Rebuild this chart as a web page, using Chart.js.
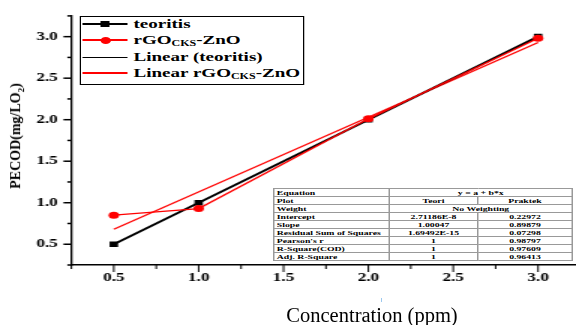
<!DOCTYPE html>
<html>
<head>
<meta charset="utf-8">
<script src="https://cdn.jsdelivr.net/npm/chart.js@4.4.1/dist/chart.umd.min.js"></script>
<style>
    body { margin: 0; width: 576px; height: 325px; overflow: hidden; background: #fff; position: relative; }
    /* the original figure was stretched sideways, so the whole plot lives in a scaled box */
    #wrap { position: absolute; left: 0; top: 0; width: 393px; height: 325px; transform: scaleX(1.5); transform-origin: 0 0; }
    #c { position: absolute; left: 0; top: 0; }
    #ytitle { position: absolute; left: 17px; top: 136px; transform: translate(-50%, -50%) rotate(-90deg);
        font: bold 14px "Liberation Serif"; white-space: nowrap; color: #000; }
    #ytitle sub { font-size: 9px; }
    #legend { position: absolute; left: 53px; top: 16px; width: 148px; height: 67px; border: 1px solid #000; background: #fff; }
    .row { position: absolute; left: 0; height: 16px; width: 148px; }
    .smp { position: absolute; left: 1px; width: 30px; top: 8px; }
    .mk { position: absolute; left: 13px; }
    .lbl { position: absolute; left: 35px; top: 0; font: bold 12.7px/16px "Liberation Serif"; white-space: nowrap; color: #000; }
    .lbl sub { font-size: 8px; vertical-align: -2px; }
    #fit { position: absolute; left: 182px; top: 188px; width: 199px; height: 71px; border-collapse: collapse;
        table-layout: fixed; border: 1px solid #000; background: #fff; font: bold 6.5px "Liberation Serif"; color: #000; }
    #fit td { border: 0.5px solid #999; padding: 0 1.5px; height: 7px; line-height: 6px; text-align: center; white-space: nowrap; overflow: hidden; }
    #fit td:first-child { text-align: left; }
    #xtitle { position: absolute; left: 272px; top: 305px; width: 200px; text-align: center;
        font: 20.5px/20px "Liberation Serif"; color: #000; white-space: nowrap; }
    #mark { position: absolute; left: 381px; top: 298px; width: 1px; height: 4px; background: #9cc8ee; }
</style>
</head>
<body>
<div id="wrap">
    <canvas id="c" width="393" height="325"></canvas>
    <div id="legend">
        <div class="row" style="top:-1px">
            <span class="smp" style="height:2px;margin-top:-1px;background:#000"></span>
            <span class="mk" style="top:5px;width:6px;height:6px;background:#000"></span>
            <span class="lbl">teoritis</span>
        </div>
        <div class="row" style="top:15px">
            <span class="smp" style="height:1.5px;margin-top:-1px;background:#f00"></span>
            <span class="mk" style="top:4.5px;width:7px;height:7px;border-radius:50%;background:#f00"></span>
            <span class="lbl">rGO<sub>CKS</sub>-ZnO</span>
        </div>
        <div class="row" style="top:32px">
            <span class="smp" style="height:1px;background:#000"></span>
            <span class="lbl">Linear (teoritis)</span>
        </div>
        <div class="row" style="top:48px">
            <span class="smp" style="height:1.5px;margin-top:-1px;background:#f00"></span>
            <span class="lbl">Linear rGO<sub>CKS</sub>-ZnO</span>
        </div>
    </div>
    <table id="fit">
        <colgroup><col style="width:77px"><col style="width:59px"><col style="width:63px"></colgroup>
        <tbody id="fitBody"></tbody>
    </table>
</div>
<div id="ytitle">PECOD(mg/LO<sub>2</sub>)</div>
<div id="xtitle">Concentration (ppm)</div>
<div id="mark"></div>

<script>
    // data
    const concentration = [0.5, 1.0, 2.0, 3.0];
    const teoritis = [0.5, 1.0, 2.0, 3.0];
    const rgoZnO = [0.85, 0.93, 2.01, 2.98];
    // linear fits, end points only
    const fitX = [0.5, 3.0];
    const fitTeoritis = [0.50, 3.00];
    const fitRgoZnO = [0.68, 2.93];
    const majorTicks = [0.5, 1.0, 1.5, 2.0, 2.5, 3.0];

    const fitRows = [
        ['Equation', 'y = a + b*x'],
        ['Plot', 'Teori', 'Praktek'],
        ['Weight', 'No Weighting'],
        ['Intercept', '2.71186E-8', '0.22972'],
        ['Slope', '1.00047', '0.89879'],
        ['Residual Sum of Squares', '1.69492E-15', '0.07298'],
        ["Pearson's r", '1', '0.98797'],
        ['R-Square(COD)', '1', '0.97609'],
        ['Adj. R-Square', '1', '0.96413']
    ];

    const body = document.getElementById('fitBody');
    fitRows.forEach(r => {
        const tr = document.createElement('tr');
        r.forEach((txt, i) => {
            const td = document.createElement('td');
            td.textContent = txt;
            if (r.length === 2 && i === 1) td.colSpan = 2;
            tr.appendChild(td);
        });
        body.appendChild(tr);
    });

    function isMajor(v) {
        return majorTicks.some(m => Math.abs(m - v) < 1e-6);
    }

    const pts = (xs, ys) => xs.map((x, i) => ({ x: x, y: ys[i] }));

    // tick marks: long on the halves, short on the quarters
    const tickMarks = {
        id: 'tickMarks',
        afterDraw(chart) {
            const { ctx, scales: { x, y } } = chart;
            ctx.save();
            ctx.strokeStyle = '#000';
            ctx.lineWidth = 1;
            x.ticks.forEach(t => {
                const px = x.getPixelForValue(t.value);
                ctx.beginPath();
                ctx.moveTo(px, x.top);
                ctx.lineTo(px, x.top + (isMajor(t.value) ? 7 : 4));
                ctx.stroke();
            });
            ctx.lineWidth = 1.5;
            y.ticks.forEach(t => {
                const py = y.getPixelForValue(t.value);
                ctx.beginPath();
                ctx.moveTo(y.right, py);
                ctx.lineTo(y.right - (isMajor(t.value) ? 5.3 : 2.7), py);
                ctx.stroke();
            });
            ctx.restore();
        }
    };

    const tickFont = { family: 'Liberation Serif', size: 11.5, weight: 'bold' };

    new Chart(document.getElementById('c'), {
        type: 'line',
        data: {
            datasets: [
                {
                    label: 'teoritis', data: pts(concentration, teoritis), order: 1,
                    borderColor: '#000', backgroundColor: '#000', borderWidth: 2,
                    pointStyle: 'rect', pointRadius: 4, pointBorderWidth: 0
                },
                {
                    label: 'rGO-ZnO', data: pts(concentration, rgoZnO), order: 0,
                    borderColor: '#f00', backgroundColor: '#f00', borderWidth: 1.3,
                    pointStyle: 'circle', pointRadius: 3.5, pointBorderWidth: 0
                },
                {
                    label: 'Linear (teoritis)', data: pts(fitX, fitTeoritis), order: 3,
                    borderColor: '#000', borderWidth: 1, pointRadius: 0
                },
                {
                    label: 'Linear rGO-ZnO', data: pts(fitX, fitRgoZnO), order: 2,
                    borderColor: '#f00', borderWidth: 1.3, pointRadius: 0
                }
            ]
        },
        options: {
            responsive: false,
            animation: false,
            devicePixelRatio: 1,
            layout: { padding: { top: 12, right: 4.7, left: 0, bottom: 0 } },
            plugins: { legend: { display: false }, tooltip: { enabled: false } },
            scales: {
                x: {
                    type: 'linear', min: 0.25, max: 3.25,
                    afterFit: s => { s.height = 60; },
                    grid: { display: false, drawTicks: false },
                    border: { display: true, color: '#000', width: 1.5 },
                    ticks: {
                        stepSize: 0.25, autoSkip: false, maxRotation: 0, padding: 6,
                        color: '#000', font: tickFont,
                        callback: v => isMajor(v) ? v.toFixed(1) : ''
                    }
                },
                y: {
                    type: 'linear', min: 0.25, max: 3.25,
                    afterFit: s => { s.width = 47.6; },
                    grid: { display: false, drawTicks: false },
                    border: { display: true, color: '#000', width: 1.3 },
                    ticks: {
                        stepSize: 0.25, autoSkip: false, padding: 9,
                        color: '#000', font: tickFont,
                        callback: v => isMajor(v) ? v.toFixed(1) : ''
                    }
                }
            }
        },
        plugins: [tickMarks]
    });
</script>
</body>
</html>
